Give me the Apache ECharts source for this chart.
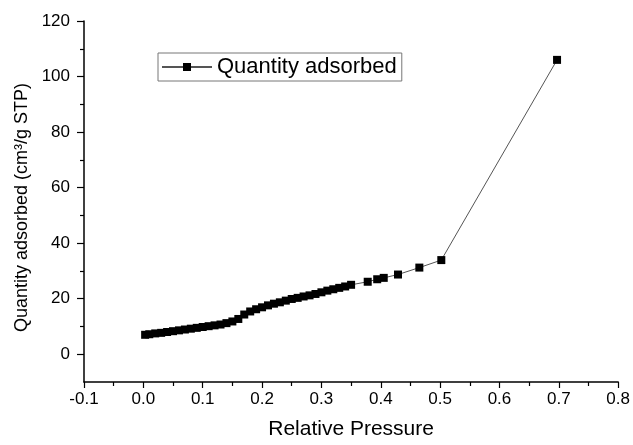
<!DOCTYPE html>
<html>
<head>
<meta charset="utf-8">
<script src="https://cdn.jsdelivr.net/npm/echarts@6/dist/echarts.min.js"></script>
<style>
  html, body { margin: 0; padding: 0; background: #fff; }
  #chart { width: 633px; height: 445px; }
</style>
</head>
<body>
<div id="chart"></div>
<script>
// Nitrogen adsorption isotherm: relative pressure vs. quantity adsorbed
const relativePressure = [
  0.003, 0.01, 0.02, 0.03, 0.04, 0.05, 0.06, 0.07, 0.08, 0.09,
  0.10, 0.11, 0.12, 0.13, 0.14, 0.15, 0.16, 0.17, 0.18, 0.19,
  0.20, 0.21, 0.22, 0.23, 0.24, 0.25, 0.26, 0.27, 0.28, 0.29,
  0.30, 0.31, 0.32, 0.33, 0.34, 0.35, 0.378, 0.394, 0.405, 0.429,
  0.465, 0.502, 0.697
];
const quantityAdsorbed = [
  7.0, 7.2, 7.5, 7.7, 8.0, 8.3, 8.6, 8.9, 9.2, 9.5,
  9.8, 10.1, 10.4, 10.7, 11.2, 11.8, 12.7, 14.3, 15.4, 16.2,
  16.9, 17.6, 18.2, 18.7, 19.3, 19.9, 20.3, 20.8, 21.2, 21.7,
  22.3, 22.9, 23.4, 23.9, 24.4, 25.0, 26.1, 27.0, 27.5, 28.7,
  31.2, 33.9, 106.0
];
const yTicks = [0, 20, 40, 60, 80, 100, 120];
const yMinorTicks = [10, 30, 50, 70, 90, 110];

const points = relativePressure.map((p, i) => [p, quantityAdsorbed[i]]);

const FONT = '"Liberation Sans", Arial, sans-serif';
const chart = echarts.init(document.getElementById('chart'), null, { renderer: 'canvas' });

chart.setOption({
  animation: false,
  backgroundColor: '#fff',
  textStyle: { fontFamily: FONT, color: '#000' },
  grid: { left: 84, right: 14, top: 21, bottom: 56 },
  legend: {
    left: 158, top: 53,
    padding: [3, 5, 3, 3],
    borderColor: '#777', borderWidth: 1,
    itemWidth: 50, itemHeight: 10,
    textStyle: { fontSize: 22, fontFamily: FONT, color: '#000' },
    data: ['Quantity adsorbed']
  },
  xAxis: {
    type: 'value',
    min: -0.1, max: 0.8, interval: 0.1,
    name: 'Relative Pressure',
    nameLocation: 'middle', nameGap: 37,
    nameTextStyle: { fontSize: 21, fontFamily: FONT, color: '#000' },
    axisLine: { onZero: false, lineStyle: { color: '#000', width: 1.5 } },
    axisTick: { inside: false, length: 6, lineStyle: { color: '#000', width: 1.2 } },
    minorTick: { show: true, splitNumber: 2, length: 4, lineStyle: { color: '#000', width: 1.2 } },
    axisLabel: {
      fontSize: 17, color: '#000', margin: 9, fontFamily: FONT,
      formatter: v => (Math.abs(v) < 1e-9 ? 0 : v).toFixed(1)
    },
    splitLine: { show: false }
  },
  yAxis: [
    {
      type: 'value',
      min: -10, max: 120, interval: 10,
      name: 'Quantity adsorbed (cm³/g STP)',
      nameLocation: 'middle', nameGap: 51,
      nameTextStyle: { fontSize: 18, fontFamily: FONT, color: '#000', padding: [0, 12, 0, 0] },
      axisLine: { show: true, onZero: false, lineStyle: { color: '#000', width: 1.5 } },
      axisTick: { show: true, length: 7, customValues: yTicks, lineStyle: { color: '#000', width: 1.2 } },
      axisLabel: { fontSize: 17, color: '#000', margin: 14, fontFamily: FONT, customValues: yTicks },
      splitLine: { show: false }
    },
    {
      type: 'value',
      min: -10, max: 120, interval: 10,
      position: 'left',
      axisLine: { show: false, onZero: false },
      axisTick: { show: true, length: 4, customValues: yMinorTicks, lineStyle: { color: '#000', width: 1.2 } },
      axisLabel: { show: false },
      splitLine: { show: false }
    }
  ],
  series: [{
    name: 'Quantity adsorbed',
    type: 'line',
    yAxisIndex: 0,
    data: points,
    symbol: 'rect',
    symbolSize: 8,
    itemStyle: { color: '#000' },
    lineStyle: { color: '#555', width: 1 }
  }]
});
</script>
</body>
</html>
